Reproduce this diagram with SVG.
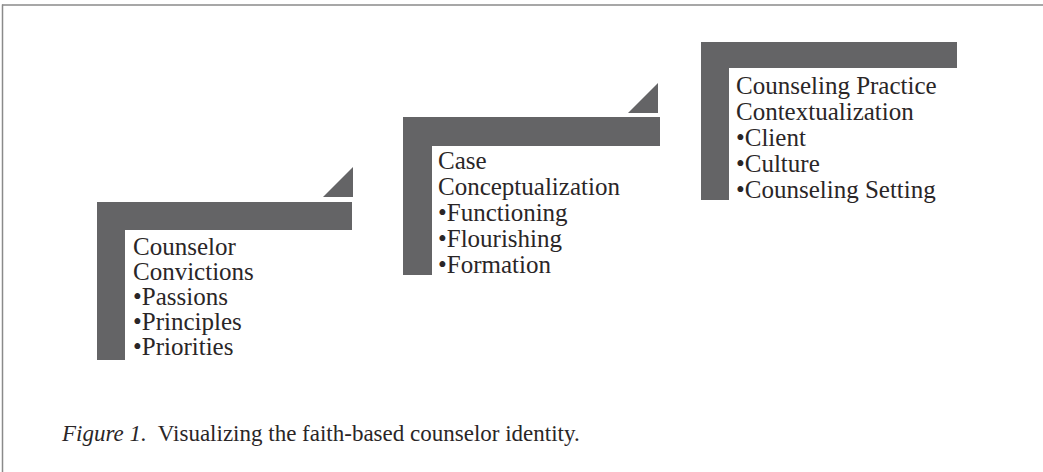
<svg xmlns="http://www.w3.org/2000/svg" width="1043" height="472" viewBox="0 0 1043 472">
  <style>
    .bar { fill: #646466; }
    .t { font-family: "Liberation Serif", "Times New Roman", serif; font-size: 25px; fill: #2a2627; }
    .cap { font-family: "Liberation Serif", "Times New Roman", serif; font-size: 23px; fill: #2a2627; }
    .frame { stroke: #8a8a8a; stroke-width: 1.5; fill: none; }
  </style>
  <rect width="1043" height="472" fill="#ffffff"/>
  <g id="frame">
    <line class="frame" x1="2" y1="5" x2="1043" y2="5"/>
    <line class="frame" x1="2.5" y1="4.5" x2="2.5" y2="472"/>
  </g>
  <g id="connectors"></g>
  <g id="node-convictions">
    <path class="bar" d="M97,202 H352 V230 H125 V360 H97 Z"/>
    <polygon class="bar" points="323,197 353,197 353,167"/>
    <text class="t" x="133" y="255">Counselor</text>
    <text class="t" x="133" y="280">Convictions</text>
    <text class="t" x="133" y="305">•Passions</text>
    <text class="t" x="133" y="330">•Principles</text>
    <text class="t" x="133" y="355">•Priorities</text>
  </g>
  <g id="node-conceptualization">
    <path class="bar" d="M403,117 H660 V146 H432 V275 H403 Z"/>
    <polygon class="bar" points="628,113 658,113 658,83"/>
    <text class="t" x="438" y="169">Case</text>
    <text class="t" x="438" y="195">Conceptualization</text>
    <text class="t" x="438" y="221">•Functioning</text>
    <text class="t" x="438" y="247">•Flourishing</text>
    <text class="t" x="438" y="273">•Formation</text>
  </g>
  <g id="node-contextualization">
    <path class="bar" d="M701,42 H957 V68 H729 V200 H701 Z"/>
    <text class="t" x="736" y="94">Counseling Practice</text>
    <text class="t" x="736" y="120">Contextualization</text>
    <text class="t" x="736" y="146">•Client</text>
    <text class="t" x="736" y="172">•Culture</text>
    <text class="t" x="736" y="198">•Counseling Setting</text>
  </g>
  <g id="caption">
    <text class="cap" x="62" y="441"><tspan font-style="italic">Figure 1.</tspan><tspan xml:space="preserve">  Visualizing the faith-based counselor identity.</tspan></text>
  </g>
</svg>
